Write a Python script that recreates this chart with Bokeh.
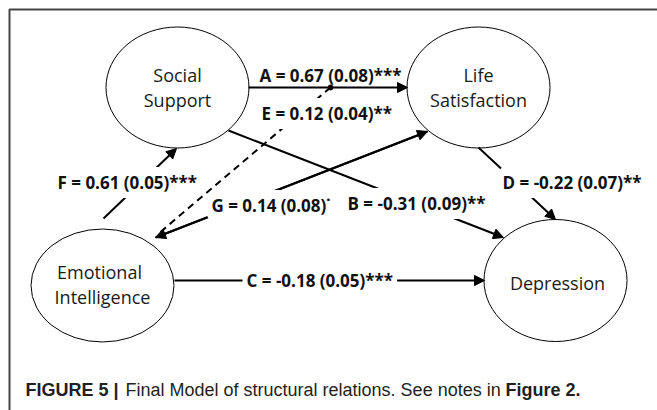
from bokeh.plotting import figure
from bokeh.models import ColumnDataSource, Range1d, Arrow, NormalHead, LabelSet
from bokeh.core.properties import value
from bokeh.embed import file_html
from bokeh.resources import INLINE

# ---------------- data ----------------
node_ids = ["SS", "LS", "EI", "DEP"]
node_lines = [["Social", "Support"], ["Life", "Satisfaction"],
              ["Emotional", "Intelligence"], ["Depression"]]

path_ids = ["A", "B", "C", "D", "E", "F", "G"]
path_from = ["SS", "SS", "EI", "LS", "EI", "EI", "EI"]
path_to = ["LS", "DEP", "DEP", "DEP", "A", "SS", "LS"]
coefs = [0.67, -0.31, -0.18, -0.22, 0.12, 0.61, 0.14]
ses = [0.08, 0.09, 0.05, 0.07, 0.04, 0.05, 0.08]
sig = ["***", "**", "***", "**", "**", "***", "˙"]

caption_bold = "FIGURE 5 |"
caption_text = "Final Model of structural relations. See notes in"
caption_ref = "Figure 2"

# ---------------- layout (pixel space) ----------------
node_pos = {"SS": (177, 87, 143, 121), "LS": (478, 87, 143, 121),
            "EI": (102, 285, 143, 113), "DEP": (555, 280, 143, 122)}
line_pos = {"SS": [(177, 74), (177, 99)], "LS": [(478, 74), (478, 99)],
            "EI": [(99, 271), (102, 296)], "DEP": [(557, 282)]}
edge_pos = {"A": (248, 87, 407, 87), "B": (228, 130, 503, 237),
            "C": (174, 280, 484, 280), "D": (478, 147, 555, 219),
            "E": (330, 87, 157, 234), "F": (103, 218, 176, 148),
            "G": (155, 237, 427, 131)}
label_pos = {"A": (259, 75), "B": (347, 203), "C": (246, 280), "D": (502, 182),
             "E": (261, 113), "F": (57, 182), "G": (211, 205)}

X0, X1, Y0, Y1 = 0, 657, 0, 410

p = figure(width=X1 - X0, height=Y1 - Y0, x_range=Range1d(X0, X1), y_range=Range1d(Y1, Y0),
           x_axis_type=None, y_axis_type=None, toolbar_location=None,
           output_backend="svg", min_border=0, outline_line_color=None)
p.grid.visible = False
p.background_fill_color = "white"

# frame (left + top)
p.line([9, 9, X1 + 10], [Y1 + 10, 9, 9], line_color="#454545", line_width=2)

# ellipses
ell = ColumnDataSource(dict(x=[node_pos[n][0] for n in node_ids], y=[node_pos[n][1] for n in node_ids],
                            w=[node_pos[n][2] for n in node_ids], h=[node_pos[n][3] for n in node_ids]))
p.ellipse(x="x", y="y", width="w", height="h", source=ell, fill_color="white",
          line_color="black", line_width=1)

# node labels
nx, ny, nt = [], [], []
for n, lines in zip(node_ids, node_lines):
    for (x, y), t in zip(line_pos[n], lines):
        nx.append(x); ny.append(y); nt.append(t)
p.text(x=nx, y=ny, text=nt, text_font=value("Open Sans"), text_font_size="18px",
       text_align="center", text_baseline="middle", text_color="#1a1a1a")

# edges
solid = [i for i in path_ids if i != "E"]
src = ColumnDataSource(dict(x0=[edge_pos[i][0] for i in solid], y0=[edge_pos[i][1] for i in solid],
                            x1=[edge_pos[i][2] for i in solid], y1=[edge_pos[i][3] for i in solid]))
p.add_layout(Arrow(end=NormalHead(size=10, fill_color="black", line_color="black", line_width=1),
                   x_start="x0", y_start="y0", x_end="x1", y_end="y1", source=src,
                   line_width=2, line_color="black"))
g = edge_pos["G"]
p.add_layout(Arrow(end=NormalHead(size=10, fill_color="black", line_color="black", line_width=1),
                   x_start=g[2], y_start=g[3], x_end=g[0], y_end=g[1],
                   line_width=2, line_color="black"))
e = edge_pos["E"]
p.segment(x0=[e[0]], y0=[e[1]], x1=[e[2]], y1=[e[3]], line_color="black", line_width=2,
          line_dash="7 5")
p.scatter(x=[e[0]], y=[e[1]], size=5, color="black")

# path labels
labels = [f"{i} = {c:.2f} ({s:.2f}){g_}" for i, c, s, g_ in zip(path_ids, coefs, ses, sig)]
lab_style = dict(text_font=value("Open Sans"), text_font_size="17px", text_font_style="bold",
                 text_align="left", text_baseline="middle", text_color="#111111")
boxed = [i for i in path_ids if i != "A"]
bsrc = ColumnDataSource(dict(x=[label_pos[i][0] for i in boxed], y=[label_pos[i][1] for i in boxed],
                             text=[labels[path_ids.index(i)] for i in boxed]))
p.add_layout(LabelSet(x="x", y="y", text="text", source=bsrc, background_fill_color="white",
                      border_line_color="white", border_line_width=8, **lab_style))
asrc = ColumnDataSource(dict(x=[label_pos["A"][0]], y=[label_pos["A"][1]],
                             text=[labels[path_ids.index("A")]]))
p.add_layout(LabelSet(x="x", y="y", text="text", source=asrc, **lab_style))

# caption
p.text(x=[25], y=[389], text=[caption_bold], text_font=value("Liberation Sans"),
       text_font_size="18px", text_font_style="bold", text_baseline="middle", text_color="#231f20")
p.text(x=[125], y=[389], text=[caption_text], text_font=value("Liberation Sans"),
       text_font_size="18px", text_baseline="middle", text_color="#231f20")
p.text(x=[505], y=[389], text=[caption_ref + "."], text_font=value("Liberation Sans"),
       text_font_size="18px", text_font_style="bold", text_baseline="middle", text_color="#231f20")

open("out.html", "w").write(file_html(p, INLINE))
